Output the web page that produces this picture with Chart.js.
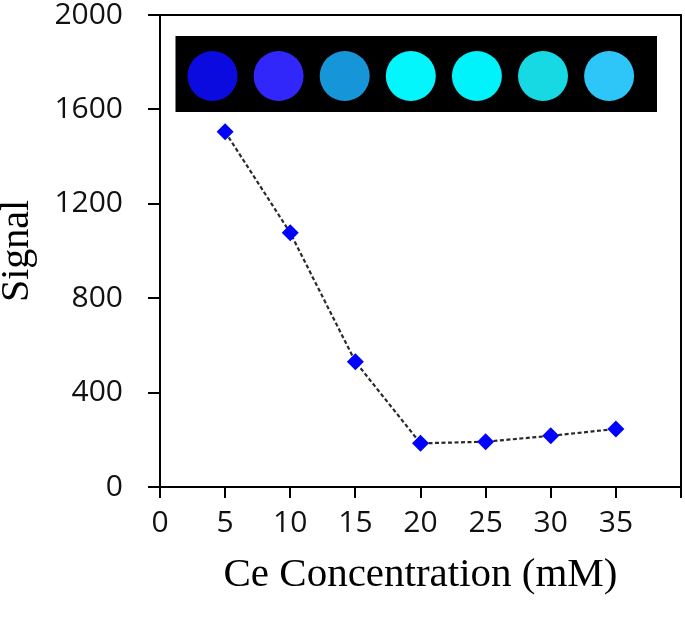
<!DOCTYPE html>
<html>
<head>
<meta charset="utf-8">
<script src="https://cdn.jsdelivr.net/npm/chart.js@4/dist/chart.umd.min.js"></script>
<style>
  html, body { margin: 0; padding: 0; background: #fff; }
  #wrap { width: 685px; height: 618px; }
</style>
</head>
<body>
<div id="wrap"><canvas id="lineChart"></canvas></div>
<script>
// data
var concentrations = [5, 10, 15, 20, 25, 30, 35];
var signal = [1505, 1077, 531, 185, 192, 217, 246];
var xTicks = [0, 5, 10, 15, 20, 25, 30, 35, 40];
var yTicks = [0, 400, 800, 1200, 1600, 2000];
// colours of the vials in the photo strip
var vialColors = ['#0b0be0', '#3227fb', '#1696d8', '#02f6fb', '#00f2fa', '#17d9e4', '#2ec6f8'];

// frame round the plot + the photo strip at the top
var framePlugin = {
    id: 'frame',
    afterDraw: function (chart) {
        var ctx = chart.ctx;
        var a = chart.chartArea;
        ctx.save();
        ctx.strokeStyle = '#000';
        ctx.lineWidth = 2;
        ctx.strokeRect(a.left, a.top, a.right - a.left, a.bottom - a.top);

        var bx = a.left + 15.5, by = a.top + 21, bw = 481.5, bh = 76;
        ctx.fillStyle = '#000';
        ctx.fillRect(bx, by, bw, bh);
        vialColors.forEach(function (c, i) {
            var cx = bx + 37 + i * 66.1;
            var cy = by + 40;
            ctx.fillStyle = c;
            ctx.beginPath();
            ctx.arc(cx, cy, 25, 0, Math.PI * 2);
            ctx.fill();
        });
        ctx.restore();
    }
};

var ctxL = document.getElementById('lineChart');
var myLineChart = new Chart(ctxL, {
    type: 'line',
    data: {
        datasets: [{
            label: 'Signal',
            data: concentrations.map(function (c, i) { return { x: c, y: signal[i] }; }),
            borderColor: '#2a2a2a',
            borderWidth: 2.2,
            borderDash: [4, 2.5],
            pointStyle: 'rectRot',
            pointRadius: 8.5,
            pointBackgroundColor: '#0000ff',
            pointBorderColor: '#0000ff',
            pointBorderWidth: 0,
            fill: false,
            tension: 0
        }]
    },
    options: {
        responsive: true,
        maintainAspectRatio: false,
        animation: false,
        layout: { autoPadding: false, padding: { top: 15, right: 4, left: 0, bottom: 0 } },
        plugins: { legend: { display: false }, tooltip: { enabled: false } },
        scales: {
            x: {
                type: 'linear',
                min: xTicks[0],
                max: xTicks[xTicks.length - 1],
                afterBuildTicks: function (s) { s.ticks = xTicks.map(function (v) { return { value: v }; }); },
                afterFit: function (s) { s.height = 131; s.paddingLeft = 0; s.paddingRight = 0; },
                ticks: {
                    color: '#111',
                    padding: 10,
                    maxRotation: 0,
                    autoSkip: false,
                    font: { family: '"Open Sans", sans-serif', size: 30, lineHeight: 1 },
                    callback: function (v) { return v === 40 ? '' : String(v); }
                },
                grid: { drawOnChartArea: false, color: '#000', lineWidth: 2, tickLength: 11 },
                border: { color: '#000', width: 2 },
                title: {
                    display: true,
                    text: 'Ce Concentration (mM)',
                    color: '#000',
                    padding: { top: 0, bottom: 22 },
                    font: { family: '"Liberation Serif", "Times New Roman", serif', size: 41, lineHeight: 1 }
                }
            },
            y: {
                min: yTicks[0],
                max: yTicks[yTicks.length - 1],
                afterBuildTicks: function (s) { s.ticks = yTicks.map(function (v) { return { value: v }; }); },
                afterFit: function (s) { s.width = 160; s.paddingTop = 0; s.paddingBottom = 0; },
                ticks: {
                    color: '#111',
                    padding: 25,
                    font: { family: '"Open Sans", sans-serif', size: 30, lineHeight: 1 },
                    callback: function (v) { return String(v); }
                },
                grid: { drawOnChartArea: false, color: '#000', lineWidth: 2, tickLength: 12 },
                border: { color: '#000', width: 2 },
                title: {
                    display: true,
                    text: 'Signal',
                    color: '#000',
                    padding: { top: 0, bottom: 0 },
                    font: { family: '"Liberation Serif", "Times New Roman", serif', size: 40, lineHeight: 0.85 }
                }
            }
        }
    },
    plugins: [framePlugin]
});
</script>
</body>
</html>
